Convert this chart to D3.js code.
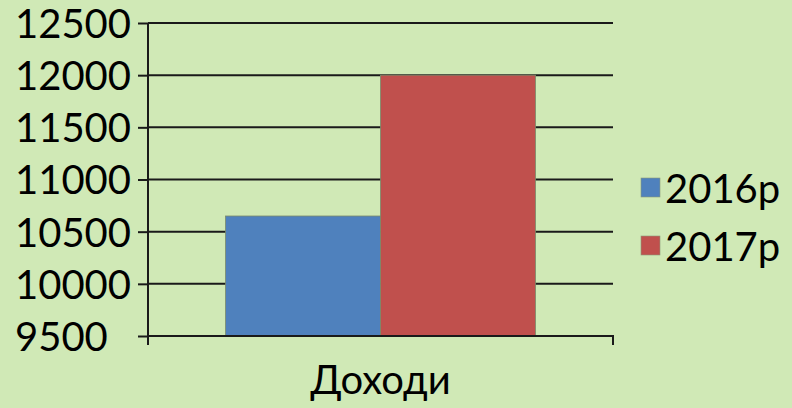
<!DOCTYPE html>
<html>
<head>
<meta charset="utf-8">
<script src="https://cdn.jsdelivr.net/npm/d3@7"></script>
<style>
  html, body { margin: 0; padding: 0; background: #d0e9b6; }
  svg { display: block; }
  text { font-family: Lato, "Open Sans", sans-serif; fill: #000; }
</style>
</head>
<body>
<svg id="chart" width="792" height="408"></svg>
<script>
// chart data
const categories = ["Доходи"];
const seriesNames = ["2016р", "2017р"];
const seriesValues = [10650, 12000];
const seriesColors = ["#4f81bd", "#c0504d"];
const yTicks = [9500, 10000, 10500, 11000, 11500, 12000, 12500];

const svg = d3.select("#chart");
const plotLeft = 148, plotRight = 613, plotTop = 23, plotBottom = 336;

const y = d3.scaleLinear().domain([9500, 12500]).range([plotBottom, plotTop]);
const x0 = d3.scaleBand().domain(categories).range([plotLeft, plotRight]).paddingInner(0).paddingOuter(0.25);
const x1 = d3.scaleBand().domain(seriesNames).range([0, x0.bandwidth()]);

// gridlines
svg.append("g")
    .selectAll("line")
    .data(yTicks.slice(1))
    .enter().append("line")
    .attr("x1", plotLeft).attr("x2", plotRight)
    .attr("y1", d => y(d)).attr("y2", d => y(d))
    .attr("stroke", "#1a1a1a")
    .attr("stroke-width", 2);

// bars
categories.forEach(cat => {
    svg.append("g")
        .selectAll("rect")
        .data(seriesNames.map((s, i) => ({ s, v: seriesValues[i], c: seriesColors[i] })))
        .enter().append("rect")
        .attr("x", d => x0(cat) + x1(d.s))
        .attr("y", d => y(d.v))
        .attr("width", x1.bandwidth())
        .attr("height", d => plotBottom - y(d.v))
        .attr("fill", d => d.c)
        .attr("stroke", "#7a8a6a")
        .attr("stroke-width", 0.8);
});

// y axis
const yAxis = svg.append("g")
    .attr("transform", `translate(${plotLeft},0)`)
    .call(d3.axisLeft(y).tickValues(yTicks).tickSize(10).tickFormat(d3.format("d")));
yAxis.select(".domain").attr("stroke", "#1a1a1a").attr("stroke-width", 2)
    .attr("d", `M0,${plotTop}V${plotBottom + 9}`);
yAxis.selectAll(".tick line").attr("stroke", "#1a1a1a").attr("stroke-width", 2);
yAxis.selectAll(".tick text")
    .attr("x", 15 - plotLeft)
    .attr("dy", "0.36em")
    .attr("text-anchor", "start")
    .style("font-size", "40px")
    .style("font-family", "Lato, 'Open Sans', sans-serif")
    .attr("fill", "#000");

// x axis
const xAxis = svg.append("g")
    .attr("transform", `translate(0,${plotBottom})`)
    .call(d3.axisBottom(x0).tickSize(0).tickPadding(30));
xAxis.select(".domain").attr("stroke", "#1a1a1a").attr("stroke-width", 2)
    .attr("d", `M${plotLeft},0H${plotRight}V9`);
xAxis.selectAll(".tick text")
    .style("font-size", "40px")
    .style("font-family", "Lato, 'Open Sans', sans-serif")
    .attr("fill", "#000");

// legend
const legend = svg.append("g")
    .selectAll("g")
    .data(seriesNames)
    .enter().append("g")
    .attr("transform", (d, i) => `translate(641,${178 + i * 58})`);
legend.append("rect")
    .attr("width", 19).attr("height", 19)
    .attr("fill", (d, i) => seriesColors[i])
    .attr("stroke", "#8a9a7a").attr("stroke-width", 0.6);
legend.append("text")
    .attr("x", 24).attr("y", 25)
    .style("font-size", "40px")
    .text(d => d);
</script>
</body>
</html>
